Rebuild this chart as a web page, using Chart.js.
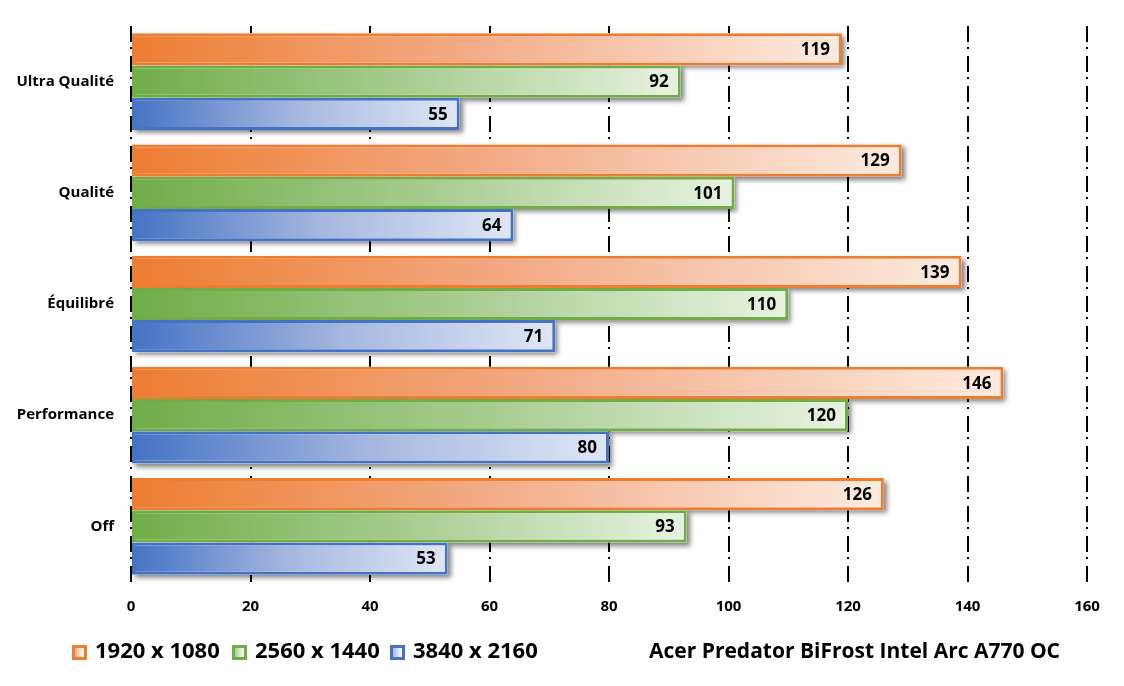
<!DOCTYPE html>
<html>
<head>
<meta charset="utf-8">
<script src="https://cdn.jsdelivr.net/npm/chart.js@4.4.1/dist/chart.umd.min.js"></script>
<style>
  html, body { margin: 0; padding: 0; background: #fff; }
  #wrap { width: 1124px; height: 686px; position: relative; }
</style>
</head>
<body>
<div id="wrap"><canvas id="c"></canvas></div>
<script>
const categories = ["Ultra Qualité", "Qualité", "Équilibré", "Performance", "Off"];
const seriesNames = ["1920 x 1080", "2560 x 1440", "3840 x 2160"];
const res1080 = [119, 129, 139, 146, 126];
const res1440 = [92, 101, 110, 120, 93];
const res2160 = [55, 64, 71, 80, 53];
const xTicks = [0, 20, 40, 60, 80, 100, 120, 140, 160];
const chartTitle = "Acer Predator BiFrost Intel Arc A770 OC";

const FONT = "'Open Sans', 'Noto Sans', sans-serif";
const palettes = [
  { base: "#ED7D31", mid: "#F3AE8B", light: "#FDEBE0" },
  { base: "#70AD47", mid: "#A8CC90", light: "#E8F2E1" },
  { base: "#4472C4", mid: "#A6B7E0", light: "#DFE6F5" }
];

function barGradient(idx) {
  return function (ctx) {
    const chart = ctx.chart;
    if (!chart.chartArea || ctx.type !== 'data') return palettes[idx].base;
    const xs = chart.scales.x;
    const v = ctx.raw;
    const x0 = xs.getPixelForValue(0);
    const x1 = xs.getPixelForValue(v);
    const g = chart.ctx.createLinearGradient(x0, 0, x1, 0);
    const p = palettes[idx];
    g.addColorStop(0, p.base);
    g.addColorStop(0.5, p.mid);
    g.addColorStop(1, p.light);
    return g;
  };
}

const shadowPlugin = {
  id: 'barShadow',
  beforeDatasetsDraw(chart) {
    const ctx = chart.ctx;
    ctx.save();
    ctx.shadowColor = 'rgba(0,0,0,0.5)';
    ctx.shadowBlur = 5;
    ctx.shadowOffsetX = 3;
    ctx.shadowOffsetY = 3;
    ctx.fillStyle = '#ffffff';
    chart.data.datasets.forEach((ds, i) => {
      chart.getDatasetMeta(i).data.forEach(el => {
        const top = el.y - el.height / 2;
        ctx.fillRect(el.base, top, el.x - el.base, el.height);
      });
    });
    ctx.restore();
  },
  afterDatasetsDraw(chart) {
    const ctx = chart.ctx;
    ctx.save();
    ctx.font = "bold 17px " + FONT;
    ctx.fillStyle = '#000';
    ctx.textAlign = 'right';
    ctx.textBaseline = 'middle';
    chart.data.datasets.forEach((ds, i) => {
      chart.getDatasetMeta(i).data.forEach((el, j) => {
        ctx.fillText(String(ds.data[j]), el.x - 12, el.y + 1);
      });
    });
    ctx.restore();
  },
  afterDraw(chart) {
    const ctx = chart.ctx;
    ctx.save();
    const y = 652;
    const boxX = [72, 232, 390];
    ctx.textBaseline = 'middle';
    ctx.textAlign = 'left';
    ctx.font = "bold 22px " + FONT;
    seriesNames.forEach((name, i) => {
      const p = palettes[i];
      const bx = boxX[i], by = y - 7, s = 15;
      ctx.fillStyle = p.base;
      ctx.fillRect(bx, by, s, s);
      const g = ctx.createLinearGradient(bx + 3, 0, bx + s - 3, 0);
      g.addColorStop(0, p.mid);
      g.addColorStop(1, '#ffffff');
      ctx.fillStyle = g;
      ctx.fillRect(bx + 3, by + 3, s - 6, s - 6);
      ctx.fillStyle = '#000';
      ctx.fillText(name, bx + 23, y);
    });
    ctx.font = "bold 21px " + FONT;
    ctx.textAlign = 'right';
    ctx.fillText(chartTitle, 1060, y);
    ctx.restore();
  }
};

const ds = [res1080, res1440, res2160].map((arr, i) => ({
  label: seriesNames[i],
  data: arr,
  backgroundColor: barGradient(i),
  borderColor: palettes[i].base,
  borderWidth: 3,
  borderSkipped: false,
  categoryPercentage: 0.87,
  barPercentage: 1.0
}));

new Chart(document.getElementById('c'), {
  type: 'bar',
  data: { labels: categories, datasets: ds },
  options: {
    indexAxis: 'y',
    responsive: true,
    maintainAspectRatio: false,
    animation: false,
    layout: { padding: { top: 22, right: 37, bottom: 64, left: 0 } },
    plugins: { legend: { display: false }, tooltip: { enabled: false } },
    scales: {
      x: {
        min: 0, max: 160,
        afterBuildTicks(scale) { scale.ticks = xTicks.map(v => ({ value: v })); },
        afterFit(scale) { scale.height = 40; },
        grid: {
          color: '#000',
          lineWidth: 2,
          drawTicks: false,
          tickLength: 0
        },
        border: { display: false, dash: [16, 5, 2, 7] },
        ticks: {
          padding: 16,
          color: '#000',
          font: { family: FONT, weight: 'bold', size: 15 }
        }
      },
      y: {
        afterFit(scale) { scale.width = 131; },
        grid: { display: false, drawTicks: false },
        border: { display: false },
        ticks: {
          padding: 17,
          color: '#000',
          font: { family: FONT, weight: 'bold', size: 15 }
        }
      }
    }
  },
  plugins: [shadowPlugin]
});
</script>
</body>
</html>
